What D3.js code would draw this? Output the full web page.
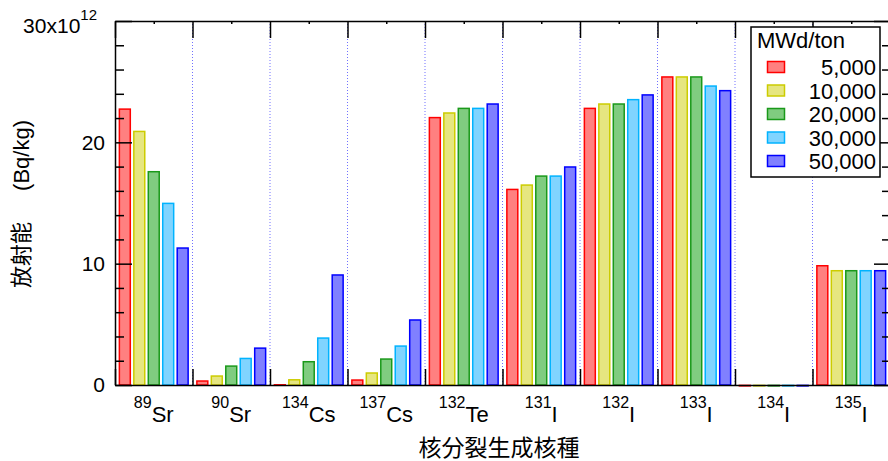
<!DOCTYPE html>
<html>
<head>
<meta charset="utf-8">
<script src="https://cdn.jsdelivr.net/npm/d3@7"></script>
<style>
  body { margin: 0; background: #fff; }
  svg { display: block; font-family: "Liberation Sans", Arial, "Noto Sans CJK JP", sans-serif; }
</style>
</head>
<body>
<div id="chart"></div>
<script>
// nuclide labels (mass number as superscript + element)
const massNumbers = ["89", "90", "134", "137", "132", "131", "132", "133", "134", "135"];
const elements = ["Sr", "Sr", "Cs", "Cs", "Te", "I", "I", "I", "I", "I"];

// burnup series (MWd/ton)
const burnups = ["5,000", "10,000", "20,000", "30,000", "50,000"];

// activity, x10^12 Bq/kg, one array per burnup, in nuclide order
const act5000  = [22.8, 0.39, 0.08, 0.47, 22.1, 16.18, 22.86, 25.45, 0.03, 9.89];
const act10000 = [20.96, 0.8, 0.49, 1.05, 22.48, 16.54, 23.22, 25.45, 0.03, 9.48];
const act20000 = [17.64, 1.62, 1.98, 2.2, 22.86, 17.28, 23.22, 25.45, 0.03, 9.48];
const act30000 = [15.03, 2.25, 3.93, 3.27, 22.86, 17.28, 23.58, 24.7, 0.03, 9.48];
const act50000 = [11.35, 3.1, 9.13, 5.42, 23.22, 18.03, 23.97, 24.32, 0.03, 9.48];
const seriesValues = [act5000, act10000, act20000, act30000, act50000];

const yMajor = [0, 10, 20, 30];
const yMinor = [2, 4, 6, 8, 12, 14, 16, 18, 22, 24, 26, 28];

const fills   = ["#ff8080", "#e6e680", "#80cc80", "#80d4ff", "#8080ff"];
const strokes = ["#ff0000", "#cccc00", "#1a991a", "#00b3ff", "#0000ff"];

const width = 888, height = 461;
const plotL = 115, plotR = 890, plotT = 21, plotB = 385;

const svg = d3.select("#chart").append("svg")
    .attr("width", width)
    .attr("height", height);

svg.append("rect").attr("width", width).attr("height", height).attr("fill", "#fff");

const n = massNumbers.length;
const x0 = d3.scaleBand().domain(d3.range(n)).range([plotL, plotR]);
const x1 = d3.scaleBand().domain(burnups).range([0, x0.bandwidth()])
    .paddingInner(0.14).paddingOuter(0.25);
const xb = d3.scaleLinear().domain([0, n]).range([plotL, plotR]);
const y = d3.scaleLinear().domain([0, 30]).range([plotB, plotT]);

// dotted separators between nuclides
svg.append("g")
    .selectAll("line")
    .data(d3.range(1, n))
    .enter().append("line")
    .attr("x1", d => xb(d)).attr("x2", d => xb(d))
    .attr("y1", plotT).attr("y2", plotB)
    .attr("stroke", "#7070ff")
    .attr("stroke-width", 1)
    .attr("stroke-dasharray", "1,2");

// bars
const groups = svg.append("g")
    .selectAll("g")
    .data(d3.range(n))
    .enter().append("g")
    .attr("transform", i => `translate(${x0(i)},0)`);

groups.selectAll("rect")
    .data(i => burnups.map((b, s) => ({ b: b, s: s, v: seriesValues[s][i] })))
    .enter().append("rect")
    .attr("x", d => x1(d.b) + 0.75)
    .attr("width", x1.bandwidth() - 1.5)
    .attr("y", d => y(d.v) + 0.75)
    .attr("height", d => Math.max(0.5, y(0) - y(d.v) - 0.75))
    .attr("fill", d => fills[d.s])
    .attr("stroke", d => strokes[d.s])
    .attr("stroke-width", 1.5);

// axes / frame
function styleAxis(g) {
  g.selectAll("path, line").attr("stroke", "#000").attr("stroke-width", 1.5);
  g.selectAll("text").attr("fill", "#000");
}

svg.append("g")
    .attr("transform", `translate(0,${plotB})`)
    .call(d3.axisBottom(xb).tickValues(d3.range(0, n + 1)).tickSizeInner(-16).tickSizeOuter(0).tickFormat(""))
    .call(styleAxis);

svg.append("g")
    .attr("transform", `translate(0,${plotT})`)
    .call(d3.axisTop(xb).tickValues(d3.range(0, n + 1)).tickSizeInner(-17).tickSizeOuter(0).tickFormat(""))
    .call(styleAxis);

svg.append("g")
    .attr("transform", `translate(0,${plotT})`)
    .call(d3.axisTop(xb).tickValues(d3.range(0.5, n, 1)).tickSizeInner(-3).tickSizeOuter(0).tickFormat(""))
    .call(styleAxis)
    .select(".domain").remove();

svg.append("g")
    .attr("transform", `translate(${plotL},0)`)
    .call(d3.axisLeft(y).tickValues(yMajor).tickSizeInner(-17).tickSizeOuter(0).tickPadding(10)
      .tickFormat(d => d === 30 ? "" : d))
    .call(styleAxis);

svg.append("g")
    .attr("transform", `translate(${plotL},0)`)
    .call(d3.axisLeft(y).tickValues(yMinor).tickSizeInner(-9).tickSizeOuter(0).tickFormat(""))
    .call(styleAxis)
    .select(".domain").remove();

svg.append("g")
    .attr("transform", `translate(${plotR},0)`)
    .call(d3.axisRight(y).tickValues(yMajor).tickSizeInner(-16).tickSizeOuter(0).tickFormat(""))
    .call(styleAxis);

svg.append("g")
    .attr("transform", `translate(${plotR},0)`)
    .call(d3.axisRight(y).tickValues(yMinor).tickSizeInner(-8).tickSizeOuter(0).tickFormat(""))
    .call(styleAxis)
    .select(".domain").remove();

// axis groups carry their own font attributes; reset to the page font
svg.selectAll("g").filter(function () { return this.getAttribute("font-family"); })
    .attr("font-family", null).attr("font-size", null);
svg.selectAll(".tick text").attr("font-size", 21);

// top tick label with exponent
const topLabel = svg.append("text")
    .attr("x", 97).attr("y", 33)
    .attr("text-anchor", "end")
    .attr("font-size", 21);
topLabel.append("tspan").text("30x10");
topLabel.append("tspan").attr("font-size", 15).attr("dy", -13).text("12");

// nuclide labels
const lab = svg.append("g")
    .selectAll("text")
    .data(d3.range(n))
    .enter().append("text")
    .attr("x", i => x0(i) + x0.bandwidth() / 2)
    .attr("y", 422)
    .attr("text-anchor", "middle")
    .attr("font-size", 22);
lab.append("tspan").attr("font-size", 16).attr("dy", -14).text(i => massNumbers[i]);
lab.append("tspan").attr("dy", 14).text(i => elements[i]);

// axis titles
svg.append("text")
    .attr("x", 499).attr("y", 456)
    .attr("text-anchor", "middle")
    .attr("font-size", 23)
    .text("核分裂生成核種");

svg.append("text")
    .attr("transform", "translate(29,288) rotate(-90)")
    .attr("font-size", 22)
    .text("放射能");
svg.append("text")
    .attr("transform", "translate(29,120) rotate(-90)")
    .attr("text-anchor", "end")
    .attr("font-size", 22)
    .text("(Bq/kg)");

// legend
const legend = svg.append("g");
legend.append("rect")
    .attr("x", 751).attr("y", 27)
    .attr("width", 129).attr("height", 150)
    .attr("fill", "#fff")
    .attr("stroke", "#000")
    .attr("stroke-width", 1.5);
legend.append("text")
    .attr("x", 757).attr("y", 48)
    .attr("font-size", 22)
    .text("MWd/ton");

const rows = legend.selectAll("g.row")
    .data(burnups)
    .enter().append("g")
    .attr("class", "row")
    .attr("transform", (d, i) => `translate(0,${67 + i * 23.5})`);
rows.append("rect")
    .attr("x", 767.5).attr("y", -5.5)
    .attr("width", 17).attr("height", 11)
    .attr("fill", (d, i) => fills[i])
    .attr("stroke", (d, i) => strokes[i])
    .attr("stroke-width", 1.5);
rows.append("text")
    .attr("x", 876).attr("y", 8)
    .attr("text-anchor", "end")
    .attr("font-size", 22)
    .text(d => d);
</script>
</body>
</html>
